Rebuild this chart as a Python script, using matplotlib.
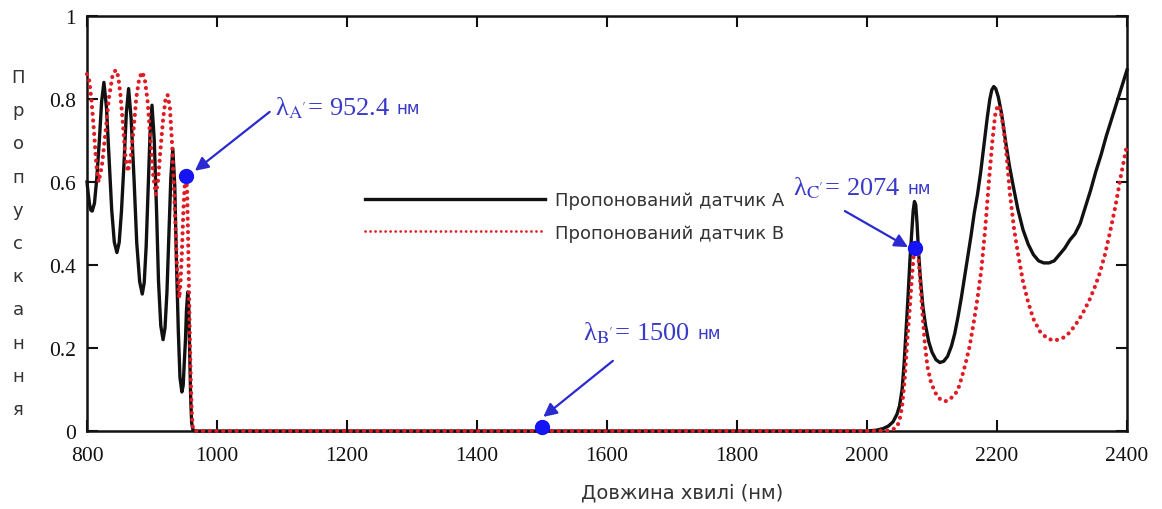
import matplotlib
matplotlib.use("Agg")
import matplotlib.pyplot as plt
from matplotlib.lines import Line2D

# Transmission spectra of the two proposed sensors
wl_a = [800, 802, 804, 806, 808, 811.5, 815, 819, 822.5, 826, 830, 834, 838, 842, 846,
        849.5, 853, 857, 860.5, 864, 868, 872.5, 876.5, 881, 885, 888, 891, 894, 897, 900,
        903.5, 907, 910, 913.5, 917, 920, 923, 926, 929, 932, 935, 937.5, 940.5, 943, 946,
        948, 949.5, 951.5, 953, 955, 956.5, 958, 959.5, 961, 963, 966,
        1000, 1200, 1400, 1600, 1800, 2000,
        2015, 2025, 2033, 2040, 2046, 2050, 2054, 2057, 2060, 2063,
        2066, 2069, 2071, 2073, 2075, 2077, 2079, 2082, 2086, 2090,
        2095, 2100, 2106, 2112, 2118, 2124, 2130, 2135, 2140, 2145,
        2150, 2155, 2160, 2165, 2170, 2175, 2180, 2185, 2189, 2192,
        2195, 2198, 2202, 2207, 2213, 2219, 2225, 2232, 2240, 2248,
        2256, 2264, 2272, 2280, 2288, 2296, 2304, 2312, 2320, 2328,
        2336, 2344, 2352, 2360, 2368, 2376, 2384, 2392, 2400]
t_a = [0.60, 0.57, 0.545, 0.532, 0.53, 0.549, 0.608, 0.70, 0.794, 0.84,
       0.779, 0.656, 0.533, 0.455, 0.43, 0.454, 0.529, 0.647, 0.766, 0.825,
       0.751, 0.602, 0.454, 0.36, 0.33, 0.357, 0.444, 0.58, 0.717, 0.785,
       0.70, 0.531, 0.361, 0.254, 0.22, 0.248, 0.335, 0.473, 0.611, 0.68,
       0.592, 0.416, 0.24, 0.129, 0.094, 0.11, 0.16, 0.22, 0.29, 0.335,
       0.30, 0.19, 0.08, 0.02, 0.003, 0.0,
       0, 0, 0, 0, 0, 0,
       0.002, 0.006, 0.012, 0.022, 0.04, 0.06, 0.10, 0.16, 0.24, 0.32,
       0.41, 0.48, 0.53, 0.553, 0.545, 0.50, 0.44, 0.37, 0.30, 0.255,
       0.215, 0.19, 0.172, 0.165, 0.168, 0.18, 0.205, 0.235, 0.275, 0.32,
       0.37, 0.42, 0.47, 0.525, 0.57, 0.625, 0.69, 0.755, 0.80, 0.822,
       0.83, 0.825, 0.805, 0.765, 0.70, 0.64, 0.59, 0.535, 0.485, 0.45,
       0.425, 0.41, 0.405, 0.405, 0.41, 0.425, 0.44, 0.46, 0.475, 0.50,
       0.54, 0.58, 0.625, 0.665, 0.71, 0.75, 0.79, 0.83, 0.87]

wl_b = [800, 803.5, 807, 811, 814.5, 818, 823, 828.5, 833.5, 839, 844,
        848, 851.5, 855.5, 859, 863, 867.5, 872, 876, 880.5, 885,
        889, 893.5, 897.5, 902, 906, 909.5, 913, 917, 920.5, 924,
        927.5, 931, 935, 938.5, 942, 944, 946, 948, 950, 952.4,
        954, 955.5, 957, 958.5, 960, 961.5, 963, 966,
        1000, 1200, 1400, 1600, 1800, 2000,
        2030, 2040, 2046, 2050, 2054, 2058, 2062, 2066, 2069, 2072,
        2075, 2078, 2081, 2085, 2089, 2093, 2098, 2104, 2110, 2116,
        2122, 2128, 2134, 2140, 2146, 2152, 2158, 2164, 2170, 2176,
        2182, 2188, 2193, 2197, 2201, 2205, 2210, 2215, 2220, 2226,
        2232, 2240, 2248, 2256, 2266, 2276, 2286, 2294, 2302, 2310,
        2318, 2326, 2334, 2342, 2350, 2358, 2366, 2374, 2382, 2390,
        2395, 2400]
t_b = [0.86, 0.844, 0.795, 0.717, 0.639, 0.60, 0.64, 0.72, 0.80, 0.854, 0.87,
       0.855, 0.809, 0.735, 0.662, 0.625, 0.661, 0.733, 0.805, 0.851, 0.865,
       0.847, 0.791, 0.703, 0.614, 0.57, 0.606, 0.678, 0.75, 0.796, 0.81,
       0.781, 0.688, 0.54, 0.394, 0.32, 0.36, 0.43, 0.52, 0.585, 0.615,
       0.58, 0.47, 0.33, 0.20, 0.10, 0.035, 0.005, 0.0,
       0, 0, 0, 0, 0, 0,
       0.001, 0.004, 0.01, 0.025, 0.06, 0.125, 0.22, 0.30, 0.37, 0.425,
       0.445, 0.44, 0.38, 0.29, 0.21, 0.155, 0.12, 0.095, 0.08, 0.073,
       0.072, 0.078, 0.085, 0.10, 0.13, 0.165, 0.205, 0.26, 0.32, 0.39,
       0.49, 0.61, 0.70, 0.76, 0.785, 0.775, 0.73, 0.66, 0.57, 0.49,
       0.43, 0.36, 0.31, 0.27, 0.24, 0.225, 0.218, 0.22, 0.225, 0.235,
       0.25, 0.268, 0.29, 0.315, 0.345, 0.38, 0.425, 0.48, 0.54, 0.61,
       0.65, 0.69]

# Marked wavelengths
mark_wl = [952.4, 1500, 2074]
mark_t = [0.615, 0.01, 0.44]
mark_sub = ["A'", "B'", "C'"]
mark_txt = ["952.4", "1500 ", "2074"]
# label anchor (data) and arrow tail / head (data)
label_pos = [(1089, 0.781), (1563, 0.239), (1886, 0.588)]
arrow_tail = [(1081, 0.769), (1609, 0.169), (1966, 0.530)]
arrow_head = [(966, 0.627), (1502, 0.034), (2063, 0.443)]

series_labels = ["Пропонований датчик А", "Пропонований датчик B"]
x_ticks = [800, 1000, 1200, 1400, 1600, 1800, 2000, 2200, 2400]
y_ticks = [0, 0.2, 0.4, 0.6, 0.8, 1]
y_tick_labels = ["0", "0.2", "0.4", "0.6", "0.8", "1"]

plt.rcParams["mathtext.fontset"] = "stix"

BLACK = "#111111"
RED = "#e01b24"
BLUE_TXT = "#3a3ac8"
BLUE_ARR = "#2a2ad0"
BLUE_DOT = "#1414f5"
SERIF = "Liberation Serif"
SANS = "DejaVu Sans"

fig = plt.figure(figsize=(11.62, 5.10), dpi=100)
ax = fig.add_axes([87 / 1162, 78 / 510, 1040 / 1162, 415 / 510])

dot_style = (0, (0.01, 1.6))
la, = ax.plot(wl_a, t_a, color=BLACK, lw=2.4, zorder=3, clip_on=False,
              solid_joinstyle="round")
lb, = ax.plot(wl_b, t_b, color=RED, lw=3.0, ls=dot_style, dash_capstyle="round",
              zorder=4, clip_on=False)
ax.plot(mark_wl, mark_t, "o", color=BLUE_DOT, ms=10, zorder=6, clip_on=False)

for (lx, ly), sub, val, tail, head in zip(label_pos, mark_sub, mark_txt,
                                          arrow_tail, arrow_head):
    ax.annotate("", xy=head, xytext=tail,
                arrowprops=dict(arrowstyle="-|>", color=BLUE_ARR, lw=1.6,
                                mutation_scale=20, shrinkA=0, shrinkB=0),
                zorder=5)
    t = ax.text(lx, ly, "λ" + r"$_{\mathrm{%s}}$" % sub + "= " + val,
                family=SERIF, fontsize=19, color=BLUE_TXT,
                ha="left", va="center", zorder=7)
    ax.annotate("нм", xy=(1, 0.5), xycoords=t, xytext=(5, -1),
                textcoords="offset points", family=SANS, fontsize=12,
                color=BLUE_TXT, ha="left", va="center", zorder=7)

ax.set_xlim(800, 2400)
ax.set_ylim(0, 1)
ax.set_xticks(x_ticks)
ax.set_xticklabels([str(v) for v in x_ticks])
ax.set_yticks(y_ticks)
ax.set_yticklabels(y_tick_labels)
ax.tick_params(direction="in", length=8, width=1.5, top=True, right=True,
               labelsize=15.5, colors=BLACK)
ax.tick_params(axis="x", pad=11)
ax.tick_params(axis="y", pad=8)
for lab in ax.get_xticklabels() + ax.get_yticklabels():
    lab.set_family(SERIF)
for sp in ax.spines.values():
    sp.set_linewidth(1.8)
    sp.set_color(BLACK)

ax.set_xlabel("Довжина хвилі (нм)", family=SANS, fontsize=14, color="#333333",
              va="center")
ax.xaxis.set_label_coords(0.572, -0.147)

# vertical stacked axis title
for i, ch in enumerate("Пропускання"):
    fig.text(18 / 1162, 1 - (78 + i * 33.2) / 510, ch, ha="center", va="center",
             family=SANS, fontsize=13, color="#333333")

handles = [Line2D([], [], color=BLACK, lw=2.4),
           Line2D([], [], color=RED, lw=2.0, ls=(0, (0.01, 1.8)),
                  dash_capstyle="round")]
leg = ax.legend(handles, series_labels, loc="upper left",
                bbox_to_anchor=(0.267, 0.578), frameon=False,
                handlelength=10.0, handletextpad=0.55, labelspacing=0.8,
                borderpad=0, borderaxespad=0,
                prop=dict(family=SANS, size=13))
for txt in leg.get_texts():
    txt.set_color("#333333")

fig.savefig("out.png", dpi=100)
